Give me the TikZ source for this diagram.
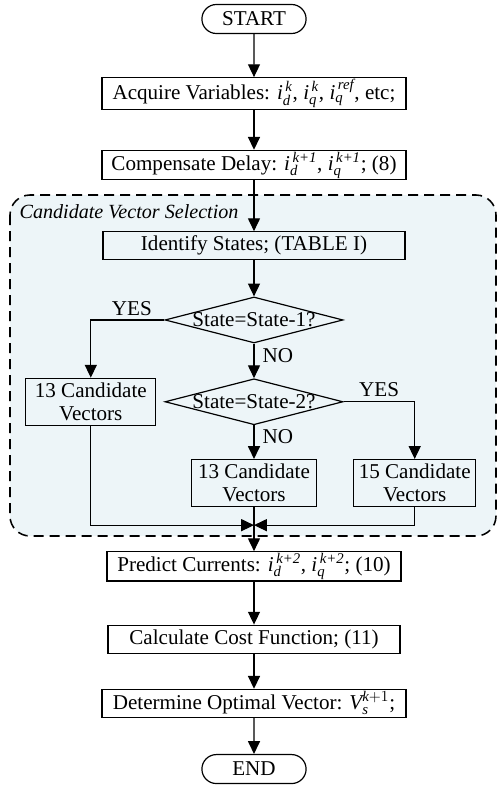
\documentclass[tikz,border=0pt]{standalone}
\usepackage{amsmath}
\usepackage{fontspec}
\setmainfont{Liberation Serif}
\usetikzlibrary{arrows.meta,positioning,shapes.geometric,shapes.misc,backgrounds}
\definecolor{selfill}{RGB}{237,245,248}
\newcommand{\flowfont}{\fontsize{15}{16.5}\selectfont}
\newcommand{\ivar}[2]{$\textit{i}_{\textit{#1}}^{\,\textit{#2}}$}

\begin{document}
\begin{tikzpicture}[
  font=\flowfont,
  line width=0.85pt,
  box/.style={draw, inner sep=1pt, minimum height=7mm, minimum width=76mm},
  cand/.style={draw, align=center, inner sep=1pt, minimum height=11.75mm},
  term/.style={draw, rounded rectangle, inner sep=1pt,
               minimum width=26.75mm, minimum height=7.25mm},
  decision/.style={draw, diamond, inner sep=0pt,
                   minimum width=44.5mm, minimum height=11.5mm},
  lab/.style={inner sep=0pt},
  grouplab/.style={inner sep=0pt, anchor=west,
                   font=\fontsize{14.3}{16}\selectfont\itshape},
  arr/.style={-{Triangle[length=3.2mm,width=3mm]}},
  region/.style={draw, dash pattern=on 2.5mm off 1.5mm, line width=1.1pt,
                 rounded corners=5mm, fill=selfill},
]
\useasboundingbox (0,0) rectangle (124.25mm,-197.75mm);

% main column
\node[term] (start) at (63.5mm,-4.75mm) {START};
\node[box, below=10.75mm of start] (acq) {Acquire Variables: \ivar{d}{k}, \ivar{q}{k}, \ivar{q}{ref}, etc;};
\node[box, below=10mm of acq] (comp) {Compensate Delay: \ivar{d}{k+1}, \ivar{q}{k+1}; (8)};
\draw[arr] (start) -- (acq);
\draw[arr] (acq) -- (comp);

% candidate vector selection
\node[grouplab] (grp) at (4.75mm,-53mm) {Candidate Vector Selection};
\node[box, below=12.75mm of comp, minimum width=75.5mm] (ident) {Identify States; (TABLE I)};
\node[decision, below=9mm of ident] (st1) {};
\node[lab] (st1txt) at (st1) {State=State-1?};
\node[decision, below=8.65mm of st1] (st2) {};
\node[lab] (st2txt) at (st2) {State=State-2?};
\node[cand, left=2mm of st2, minimum width=32.5mm] (cv1) {13 Candidate\\Vectors};
\node[cand, below=8.4mm of st2, minimum width=31.25mm] (cv2) {13 Candidate\\Vectors};
\node[cand, right=9mm of cv2, minimum width=30.5mm] (cv3) {15 Candidate\\Vectors};
\coordinate[below=4.5mm of cv2.south] (join);

\node[lab, anchor=south east] (yes1) at ([xshift=-3mm,yshift=1mm]st1.west) {YES};
\node[lab, anchor=north west] (no1) at ([xshift=2mm,yshift=-1mm]st1.south) {NO};
\node[lab, anchor=north west] (no2) at ([xshift=2mm,yshift=-1mm]st2.south) {NO};
\node[lab, anchor=south west] (yes2) at ([xshift=3.75mm,yshift=1mm]st2.east) {YES};

\draw[arr] (comp) -- (ident);
\draw[arr] (ident) -- (st1);
\draw[arr] (st1) -- (st2);
\draw[arr] (st1.west) -| (cv1.north);
\draw[arr] (st2) -- (cv2);
\draw[arr] (st2.east) -| (cv3.north);
\draw[arr] (cv1.south) |- (join);
\draw[arr] (cv3.south) |- (join);

\begin{scope}[on background layer]
  \draw[region] (2.5mm,-48.75mm) rectangle (124mm,-134mm);
\end{scope}

% prediction and selection
\node[box, below=11mm of cv2, minimum width=73.5mm] (pred) {Predict Currents: \ivar{d}{k+2}, \ivar{q}{k+2}; (10)};
\node[box, below=10.75mm of pred, minimum width=73mm] (cost) {Calculate Cost Function; (11)};
\node[box, below=8.75mm of cost] (opt) {Determine Optimal Vector: $\textit{V}_{\textit{s}}^{\textit{k}+1}$;};
\node[term, below=9mm of opt] (stop) {END};
\draw[arr] (cv2) -- (pred);
\draw[arr] (pred) -- (cost);
\draw[arr] (cost) -- (opt);
\draw[arr] (opt) -- (stop);
\end{tikzpicture}
\end{document}
